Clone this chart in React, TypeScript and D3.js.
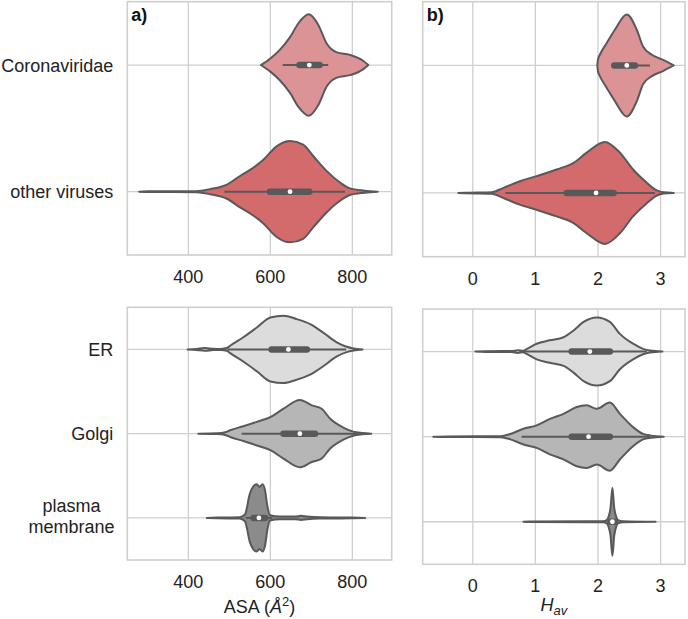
import React from "react";
import * as d3 from "d3";

// ---------- data ----------
const virusCategories = ["Coronaviridae", "other viruses"];
const organelleCategories = ["ER", "Golgi", "plasma\nmembrane"];

const asaTicks = [400, 600, 800];
const havTicks = [0, 1, 2, 3];

// density profiles: [value, relative half-width (1 = widest)]
const asaCorona: [number, number][] = [[577,0],[600,0.13],[623,0.30],[648,0.55],[668,0.82],[694,1.0],[717,0.79],[737,0.43],[762,0.25],[794,0.20],[827,0.08],[839,0]];
const asaOther: [number, number][] = [[280,0],[300,0.006],[420,0.01],[453,0.05],[494,0.14],[526,0.31],[558,0.47],[583,0.63],[616,0.90],[648,1.0],[680,0.93],[705,0.70],[737,0.41],[770,0.18],[794,0.065],[830,0.02],[862,0]];
const havCorona: [number, number][] = [[1.99,0],[2.0,0.12],[2.03,0.21],[2.14,0.44],[2.27,0.70],[2.46,1.0],[2.62,0.70],[2.72,0.37],[2.86,0.21],[3.04,0.11],[3.21,0]];
const havOther: [number, number][] = [[-0.23,0],[-0.1,0.006],[0.30,0.015],[0.49,0.10],[0.75,0.23],[1.02,0.33],[1.34,0.46],[1.61,0.59],[1.82,0.79],[2.11,1.0],[2.35,0.79],[2.56,0.46],[2.78,0.20],[2.94,0.05],[3.05,0.012],[3.21,0]];

const asaER: [number, number][] = [[398,0],[420,0.015],[440,0.04],[460,0.02],[480,0.015],[494,0.04],[502,0.11],[534,0.36],[567,0.65],[600,0.95],[632,1.0],[664,0.90],[697,0.75],[729,0.50],[762,0.21],[786,0.08],[803,0.03],[825,0]];
const asaGolgi: [number, number][] = [[424,0],[470,0.01],[490,0.04],[502,0.10],[534,0.22],[567,0.35],[600,0.49],[632,0.74],[672,1.0],[701,0.84],[725,0.74],[746,0.44],[778,0.18],[802,0.06],[825,0.02],[846,0]];
const asaPM: [number, number][] = [[445,0],[470,0.01],[525,0.02],[538,0.10],[550,0.72],[559,0.94],[567,1.0],[573,0.92],[581,1.0],[587,0.82],[593,0.33],[599,0.08],[623,0.04],[660,0.04],[675,0.06],[690,0.04],[720,0.02],[800,0.01],[831,0]];
const havER: [number, number][] = [[0.04,0],[0.2,0.01],[0.62,0.015],[0.72,0.04],[0.80,0.02],[0.86,0.07],[1.02,0.23],[1.23,0.33],[1.45,0.42],[1.61,0.62],[1.77,0.87],[1.98,1.0],[2.19,0.87],[2.35,0.52],[2.56,0.23],[2.72,0.08],[2.83,0.03],[3.03,0]];
const havGolgi: [number, number][] = [[-0.63,0],[-0.4,0.008],[0.45,0.015],[0.60,0.08],[0.81,0.23],[1.02,0.33],[1.23,0.52],[1.45,0.67],[1.66,0.87],[1.82,0.92],[1.98,0.82],[2.19,1.0],[2.35,0.67],[2.56,0.28],[2.72,0.08],[2.85,0.03],[3.05,0]];
const havPM: [number, number][] = [[0.81,0],[0.9,0.01],[2.08,0.015],[2.14,0.05],[2.17,0.15],[2.20,0.4],[2.23,1.0],[2.26,0.4],[2.29,0.15],[2.32,0.05],[2.40,0.015],[2.92,0]];

// box stats: [whisker low, q1, median, q3, whisker high]
const asaCoronaBox = [630, 671, 695, 720, 741];
const asaOtherBox = [488, 599, 648, 695, 782];
const havCoronaBox = [2.24, 2.26, 2.46, 2.59, 2.83];
const havOtherBox = [0.52, 1.50, 1.97, 2.25, 2.91];
const asaERBox = [495, 603, 644, 689, 785];
const asaGolgiBox = [530, 632, 672, 709, 827];
const asaPMBox = [540, 559, 572, 587, 605];
const havERBox = [0.78, 1.58, 1.87, 2.19, 2.78];
const havGolgiBox = [0.78, 1.58, 1.85, 2.19, 2.83];
const havPMBox = [2.16, 2.20, 2.23, 2.27, 2.30];

const virusColors = ["#dc9396", "#d36b6c"];
const organelleColors = ["#dcdcdc", "#b6b6b6", "#8b8b8b"];

// ---------- drawing ----------
const FONT = "'Liberation Sans', Arial, Helvetica, sans-serif";
const GRID = "#cfcfcf";
const LINE = "#595959";

type PanelProps = {
  x0: number; x1: number; y0: number; y1: number;
  domain: [number, number];
  ticks: number[];
  categories: string[];
  colors: string[];
  profiles: [number, number][][];
  boxes: number[][];
  showY: boolean;
  letter?: string;
  xLabel?: React.ReactNode;
  xLabelY?: number;
};

function Panel(p: PanelProps) {
  const x = d3.scaleLinear().domain(p.domain).range([p.x0, p.x1]);
  const y = d3.scaleBand().domain(p.categories).range([p.y0, p.y1]);
  const bw = y.bandwidth();
  const maxHalf = bw * 0.4;
  return (
    <g>
      {p.ticks.map((t) => (
        <line key={"gx" + t} x1={x(t)} x2={x(t)} y1={p.y0} y2={p.y1} stroke={GRID} strokeWidth={1.3} />
      ))}
      {p.categories.map((c) => {
        const cy = (y(c) as number) + bw / 2;
        return <line key={"gy" + c} x1={p.x0} x2={p.x1} y1={cy} y2={cy} stroke={GRID} strokeWidth={1.3} />;
      })}
      <rect x={p.x0} y={p.y0} width={p.x1 - p.x0} height={p.y1 - p.y0} fill="none" stroke={GRID} strokeWidth={1.6} />
      {p.categories.map((c, i) => {
        const cy = (y(c) as number) + bw / 2;
        const area = d3
          .area<[number, number]>()
          .x((d) => x(d[0]))
          .y0((d) => cy - d[1] * maxHalf)
          .y1((d) => cy + d[1] * maxHalf)
          .curve(d3.curveMonotoneX);
        const b = p.boxes[i];
        return (
          <g key={"v" + c}>
            <path d={area(p.profiles[i]) || ""} fill={p.colors[i]} stroke={LINE} strokeWidth={2} strokeLinejoin="round" />
            <line x1={x(b[0])} x2={x(b[4])} y1={cy} y2={cy} stroke={LINE} strokeWidth={2} />
            <line x1={x(b[1])} x2={x(b[3])} y1={cy} y2={cy} stroke={LINE} strokeWidth={6.5} strokeLinecap="round" />
            <circle cx={x(b[2])} cy={cy} r={2.4} fill="white" />
          </g>
        );
      })}
      {p.ticks.map((t) => (
        <text key={"tx" + t} x={x(t)} y={p.y1 + 28} textAnchor="middle" fontSize={18} fill="#222" fontFamily={FONT}>
          {t}
        </text>
      ))}
      {p.showY &&
        p.categories.map((c) => {
          const cy = (y(c) as number) + bw / 2;
          const lines = c.split("\n");
          if (lines.length === 1) {
            return (
              <text key={"ty" + c} x={p.x0 - 14} y={cy + 6.5} textAnchor="end" fontSize={18} fill="#222" fontFamily={FONT}>
                {c}
              </text>
            );
          }
          return (
            <text key={"ty" + c} x={p.x0 - 14 - 41.8} y={cy - 10 + 6.5 - 2} textAnchor="middle" fontSize={18} fill="#222" fontFamily={FONT}>
              {lines.map((l, k) => (
                <tspan key={k} x={p.x0 - 14 - 41.8} dy={k === 0 ? 0 : 20.5}>
                  {l}
                </tspan>
              ))}
            </text>
          );
        })}
      {p.letter && (
        <text x={p.x0 + 4} y={p.y0 + 19} fontSize={18} fontWeight="bold" fill="#111" fontFamily={FONT}>
          {p.letter}
        </text>
      )}
      {p.xLabel && (
        <text x={(p.x0 + p.x1) / 2} y={p.xLabelY} textAnchor="middle" fontSize={18} fill="#222" fontFamily={FONT}>
          {p.xLabel}
        </text>
      )}
    </g>
  );
}

export default function App() {
  const asaDomain: [number, number] = [251, 896];
  const havDomain: [number, number] = [-0.8, 3.39];
  return (
    <div style={{ position: "fixed", left: 0, top: 0, background: "white" }}>
      <svg width={688} height={619} style={{ display: "block" }}>
        <rect width={688} height={619} fill="white" />
        <Panel x0={127.3} x1={391.7} y0={1.7} y1={255} domain={asaDomain} ticks={asaTicks}
          categories={virusCategories} colors={virusColors} profiles={[asaCorona, asaOther]}
          boxes={[asaCoronaBox, asaOtherBox]} showY letter="a)" />
        <Panel x0={422.7} x1={685} y0={1.7} y1={256.7} domain={havDomain} ticks={havTicks}
          categories={virusCategories} colors={virusColors} profiles={[havCorona, havOther]}
          boxes={[havCoronaBox, havOtherBox]} showY={false} letter="b)" />
        <Panel x0={127.3} x1={391.7} y0={307.3} y1={560} domain={asaDomain} ticks={asaTicks}
          categories={organelleCategories} colors={organelleColors} profiles={[asaER, asaGolgi, asaPM]}
          boxes={[asaERBox, asaGolgiBox, asaPMBox]} showY xLabelY={613}
          xLabel={<>ASA (<tspan fontStyle="italic">Å</tspan><tspan dy={-7} fontSize={13}>2</tspan><tspan dy={7}>)</tspan></>} />
        <Panel x0={422.7} x1={685} y0={309} y1={564.3} domain={havDomain} ticks={havTicks}
          categories={organelleCategories} colors={organelleColors} profiles={[havER, havGolgi, havPM]}
          boxes={[havERBox, havGolgiBox, havPMBox]} showY={false} xLabelY={611}
          xLabel={<><tspan fontStyle="italic">H</tspan><tspan fontStyle="italic" fontSize={13} dy={4}>av</tspan></>} />
      </svg>
    </div>
  );
}
